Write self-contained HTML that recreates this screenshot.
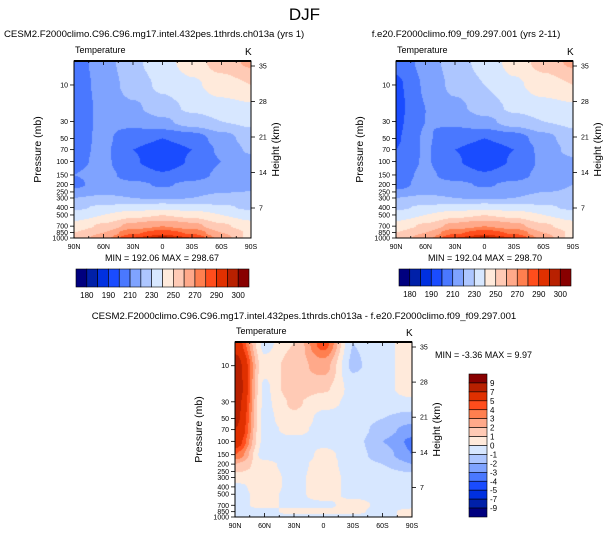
<!DOCTYPE html>
<html><head><meta charset="utf-8"><style>
html,body{margin:0;padding:0;background:#fff;}
#wrap{position:relative;width:609px;height:538px;overflow:hidden;font-family:"Liberation Sans",sans-serif;}
canvas{position:absolute;}
svg{position:absolute;left:0;top:0;}
</style></head><body>
<div id="wrap">
<canvas id="c1"></canvas>
<canvas id="c2"></canvas>
<canvas id="c3"></canvas>
<svg id="s" width="609" height="538"></svg>
</div>
<script>
// ---- data ----
const lats = [90, 60, 30, 0, -30, -60, -90];
const latLabels = ["90N","60N","30N","0","30S","60S","90S"];
const plevs = [5,10,20,30,50,70,100,150,200,300,400,500,700,850,1000];
const pLabels = [10,30,50,70,100,150,200,250,300,400,500,700,850,1000];
const kmLabels = [35,28,21,14,7];
const tBounds = [180,185,190,200,210,220,230,240,250,260,270,280,290,295,300];
const tBoundLabels = ["180","190","210","230","250","270","290","300"];
const dBounds = [-9,-7,-5,-4,-3,-2,-1,0,1,2,3,4,5,7,9];
const dBoundLabels = ["9","7","5","4","3","2","1","0","-1","-2","-3","-4","-5","-7","-9"];
const temp1 = [
 [205,215,228,236,245,255,262],
 [205,213,225,232,238,245,250],
 [205,212,218,226,232,236,238],
 [205,212,213,218,225,230,232],
 [206,212,204,200,204,215,225],
 [207,212,200,195,200,212,222],
 [208,212,201,194,201,210,215],
 [210,213,206,201,206,212,215],
 [208,214,212,209,212,216,218],
 [220,221,220,219,220,222,222],
 [228,232,235,237,235,232,228],
 [235,240,247,250,247,240,236],
 [244,252,264,270,264,252,244],
 [250,260,278,285,278,260,248],
 [252,266,290,298,290,266,246]];
const temp2 = [
 [203,213,226,233,244,254,262],
 [198,211,223,230,238,245,250],
 [197,210,217,225,232,236,238],
 [198,210,212,217,225,230,232],
 [199,211,204,200,204,216,226],
 [200,211,200,195,200,213,224],
 [202,211,201,194,201,212,218],
 [206,212,206,201,206,213,218],
 [206,214,212,209,212,217,220],
 [220,221,220,219,220,222,222],
 [228,232,235,237,235,232,228],
 [235,240,247,250,247,240,236],
 [244,252,264,270,264,252,244],
 [250,260,278,285,278,260,248],
 [252,266,290,298,290,266,246]];
const diff = [
 [6,-0.3,1,4.5,-1,-0.3,0.5],
 [8,0.3,1.5,2.5,-1.2,-0.3,0.5],
 [8.5,-0.2,1.8,1.2,-0.3,-0.3,0.5],
 [8,-0.2,1.2,0.3,-0.2,-0.3,-0.2],
 [7.5,-0.3,0.8,-0.3,-0.3,-1,-1.5],
 [7,-0.3,0.3,-0.3,-0.3,-1.5,-2.5],
 [6,-0.3,-0.3,-0.3,-0.5,-2,-3.2],
 [4,-0.5,-1,0.3,-0.5,-1.5,-3],
 [2,0.3,-0.5,0.5,-0.5,-1,-2],
 [0.5,0.5,-0.3,0.5,-0.3,-0.3,-0.5],
 [-0.3,0.5,-0.3,0.5,-0.3,-0.3,-0.3],
 [-0.3,0.3,-0.3,0.5,-0.3,-0.3,-0.3],
 [-0.3,0.3,-0.3,-0.3,0.5,-0.3,-0.3],
 [-0.3,-0.3,0.3,0.3,0.2,-0.3,0.3],
 [-0.5,-0.3,-0.3,-0.3,-0.3,-0.3,0.3]];
const palette = ["#00007f","#0020a8","#0030e0","#1a4cff","#4a78ff","#7fa3ff","#adc6ff","#d7e7ff","#ffeadb","#ffcab5","#ffa98a","#ff7f4f","#ff4d1c","#e03000","#b82000","#880000"];

// ---- geometry ----
const P = [
 {x0:74,x1:251,y0:61,y1:238,c:"c1",data:temp1,b:tBounds,n:"left"},
 {x0:396,x1:573,y0:61,y1:238,c:"c2",data:temp2,b:tBounds,n:"right"},
 {x0:235,x1:412,y0:342,y1:517,c:"c3",data:diff,b:dBounds,n:"diff"}];
const LPT = Math.log10(4.86), LPB = 3;
function yOfP(p, g){return g.y0 + (Math.log10(p)-LPT)/(LPB-LPT)*(g.y1-g.y0);}
function xOfLat(l, g){return g.x0 + (90-l)/180*(g.x1-g.x0);}
function yOfKm(z, g){return g.y0 + 5 + (35-z)/7*35.5*(g.y1-g.y0)/177;}
function colorFor(v, b){let i=0; while(i<b.length && v>=b[i]) i++; return palette[i];}
function sample(data, latF, lp){
  let lg = plevs.map(p=>Math.log10(p));
  let r=0; while(r<lg.length-2 && lp>lg[r+1]) r++;
  let t=(lp-lg[r])/(lg[r+1]-lg[r]); t=Math.max(0,Math.min(1,t));
  let c=Math.min(Math.floor(latF),lats.length-2); let u=latF-c;
  let su=u*u*(3-2*u), st=t*t*(3-2*t);
  let a=data[r][c]*(1-su)+data[r][c+1]*su, b2=data[r+1][c]*(1-su)+data[r+1][c+1]*su;
  return a*(1-st)+b2*st;
}
P.forEach(g=>{
  const cv=document.getElementById(g.c); const w=g.x1-g.x0, h=g.y1-g.y0;
  cv.width=w; cv.height=h; cv.style.left=g.x0+"px"; cv.style.top=g.y0+"px";
  const ctx=cv.getContext("2d");
  for(let y=0;y<h;y++){
    const p=Math.pow(10, LPT+(y+0.5)/h*(LPB-LPT)); const lp=Math.log10(p);
    for(let x=0;x<w;x++){
      const latF=(x+0.5)/w*(lats.length-1);
      ctx.fillStyle=colorFor(sample(g.data,latF,lp),g.b);
      ctx.fillRect(x,y,1,1);
    }
  }
});

// ---- axes ----
const S=document.getElementById("s"); const NS="http://www.w3.org/2000/svg";
function el(tag, attrs, txt){const e=document.createElementNS(NS,tag); for(const k in attrs) e.setAttribute(k,attrs[k]); if(txt!==undefined) e.textContent=txt; S.appendChild(e); return e;}
function text(x,y,s,size,anchor,name,extra){const e=el("text",Object.assign({x:x,y:y,"font-size":size,"text-anchor":anchor||"start",fill:"#000","font-family":"Liberation Sans, sans-serif"},extra||{}),s);


return e;}

text(304.5,20,"DJF",17,"middle","figure-title");
text(4,37,"CESM2.F2000climo.C96.C96.mg17.intel.432pes.1thrds.ch013a (yrs 1)",9.6,"start","left-panel-title");
text(466,37,"f.e20.F2000climo.f09_f09.297.001 (yrs 2-11)",9.6,"middle","right-panel-title");
text(304,319,"CESM2.F2000climo.C96.C96.mg17.intel.432pes.1thrds.ch013a - f.e20.F2000climo.f09_f09.297.001",9.6,"middle","diff-panel-title");

P.forEach(g=>{
  text(g.x0+1,g.y0-8,"Temperature",9,"start",g.n+"-subtitle");
  text(g.x1-6,g.y0-6,"K",10,"start",g.n+"-units");
  const fr=el("rect",{x:g.x0,y:g.y0,width:g.x1-g.x0,height:g.y1-g.y0,fill:"none",stroke:"#000","stroke-width":1});
  
  
  el("line",{x1:g.x0,x2:g.x1,y1:g.y0,y2:g.y0,stroke:"#000","stroke-width":2});
  for(let l=90;l>=-90;l-=15){
    const x=xOfLat(l,g); const major=(l%30===0);
    el("line",{x1:x,x2:x,y1:g.y1,y2:g.y1-(major?4:2),stroke:"#000","stroke-width":0.8});
    el("line",{x1:x,x2:x,y1:g.y0,y2:g.y0+(major?4:2),stroke:"#000","stroke-width":0.8});
  }
  lats.forEach((l,i)=>{text(xOfLat(l,g),g.y1+11,latLabels[i],7,"middle",g.n+"-x-tick-label");});
  pLabels.forEach(p=>{const y=yOfP(p,g);
    el("line",{x1:g.x0,x2:g.x0-4,y1:y,y2:y,stroke:"#000","stroke-width":0.8});
    text(g.x0-6,y+2.5,String(p),7,"end",g.n+"-y-tick-label");});
  kmLabels.forEach(z=>{const y=yOfKm(z,g);
    el("line",{x1:g.x1,x2:g.x1+4,y1:y,y2:y,stroke:"#000","stroke-width":0.8});
    text(g.x1+8,y+2.5,String(z),7,"start",g.n+"-km-tick-label");});
  const cy=(g.y0+g.y1)/2;
  text(0,0,"Pressure (mb)",10.5,"middle",g.n+"-y-axis-title",{transform:`translate(${g.x0-33},${cy}) rotate(-90)`});
  text(0,0,"Height (km)",10.5,"middle",g.n+"-right-axis-title",{transform:`translate(${g.x1+28},${cy}) rotate(-90)`});
});
text(162,261,"MIN = 192.06  MAX = 298.67",9,"middle","left-min-max");
text(485,261,"MIN = 192.04  MAX = 298.70",9,"middle","right-min-max");
text(435,358,"MIN =  -3.36  MAX =   9.97",9,"start","diff-min-max");

[[76,249,269,287,"left"],[399,571,269,286,"right"]].forEach(cb=>{
  const [a,b,t,bt,n]=cb; const bw=(b-a)/palette.length;
  palette.forEach((c,i)=>{const r=el("rect",{x:a+i*bw,y:t,width:bw,height:bt-t,fill:c,stroke:"#000","stroke-width":0.6});
    
    });
  tBoundLabels.forEach((s,k)=>{text(a+(2*k+1)*bw,bt+11,s,8,"middle",n+"-colorbar-label");});
});
(function(){const a=374,b=517,x=469,w=18; const bh=(b-a)/palette.length;
  palette.slice().reverse().forEach((c,i)=>{const r=el("rect",{x:x,y:a+i*bh,width:w,height:bh,fill:c,stroke:"#000","stroke-width":0.6});
    
    });
  dBoundLabels.forEach((s,k)=>{text(x+w+3,a+(k+1)*bh+3,s,8,"start","diff-colorbar-label");});
})();
</script>
</body></html>
